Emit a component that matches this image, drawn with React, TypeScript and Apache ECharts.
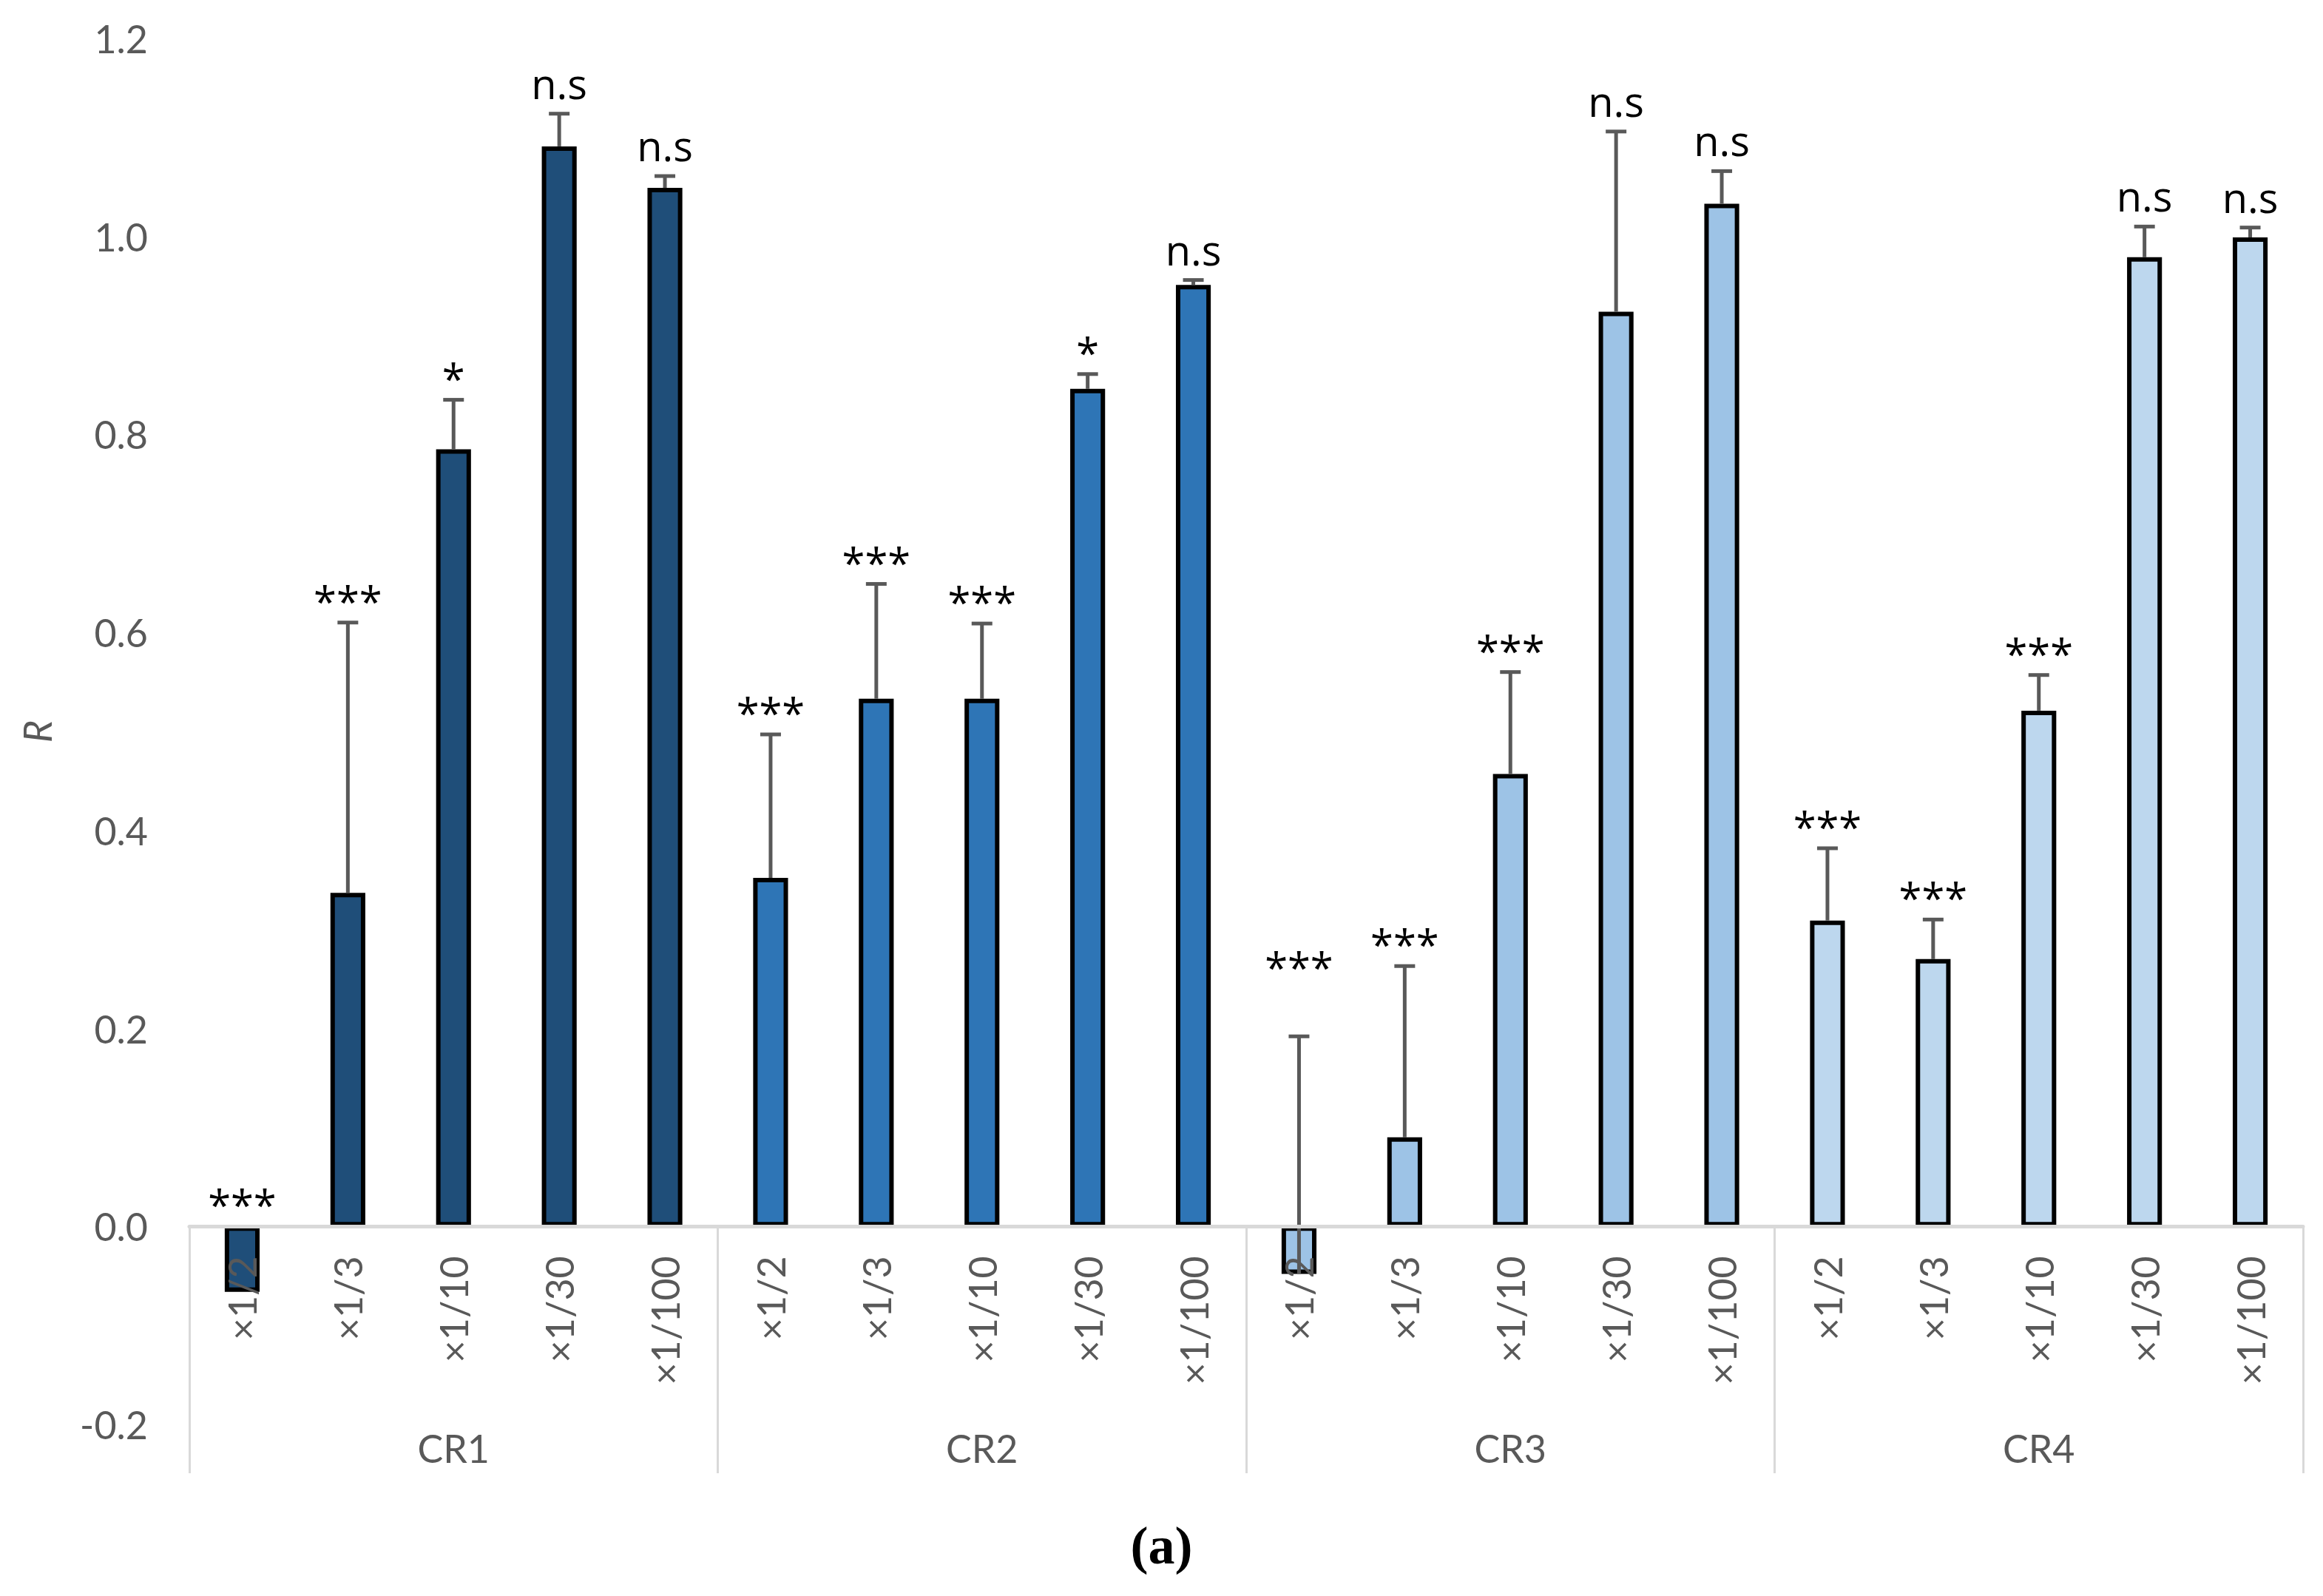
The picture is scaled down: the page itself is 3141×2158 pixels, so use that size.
import React, { useEffect, useRef } from "react";
import * as echarts from "echarts";

const groups = ["CR1", "CR2", "CR3", "CR4"];
const dilutions = ["×1/2", "×1/3", "×1/10", "×1/30", "×1/100"];
const groupColors = ["#1F4E79", "#2E75B6", "#9DC3E6", "#BDD7EE"];

const cr1Values = [-0.066, 0.337, 0.785, 1.091, 1.049];
const cr1Errors = [0, 0.273, 0.05, 0.033, 0.012];
const cr1Signif = ["***", "***", "*", "n.s", "n.s"];

const cr2Values = [0.352, 0.533, 0.533, 0.846, 0.951];
const cr2Errors = [0.145, 0.116, 0.076, 0.015, 0.005];
const cr2Signif = ["***", "***", "***", "*", "n.s"];

const cr3Values = [-0.048, 0.09, 0.457, 0.924, 1.033];
const cr3Errors = [0.24, 0.173, 0.103, 0.182, 0.033];
const cr3Signif = ["***", "***", "***", "n.s", "n.s"];

const cr4Values = [0.309, 0.27, 0.521, 0.979, 0.999];
const cr4Errors = [0.073, 0.04, 0.036, 0.031, 0.01];
const cr4Signif = ["***", "***", "***", "n.s", "n.s"];

const yTicks = { min: -0.2, max: 1.2, interval: 0.2 };

const FONT = "Lato, 'Open Sans', sans-serif";
const ANNOT_FONT = "'Open Sans', Lato, sans-serif";

const W = 3141;
const H = 2158;
const GRID = { left: 256, right: 27, top: 52, bottom: 232 };

export default function App() {
  const ref = useRef<HTMLDivElement>(null);

  useEffect(() => {
    document.body.style.margin = "0";
    if (!ref.current) return;
    const chart = echarts.init(ref.current, undefined, { renderer: "svg" });

    const allValues = [cr1Values, cr2Values, cr3Values, cr4Values];
    const allErrors = [cr1Errors, cr2Errors, cr3Errors, cr4Errors];
    const allSignif = [cr1Signif, cr2Signif, cr3Signif, cr4Signif];

    const categories: string[] = [];
    const barData: any[] = [];
    const errData: any[] = [];
    const signif: string[] = [];
    groups.forEach((g, gi) => {
      dilutions.forEach((d, di) => {
        const idx = categories.length;
        categories.push(d);
        barData.push({
          value: allValues[gi][di],
          itemStyle: { color: groupColors[gi] },
        });
        errData.push([idx, allValues[gi][di], allErrors[gi][di]]);
        signif.push(allSignif[gi][di]);
      });
    });

    // distance from grid bottom (y = min) up to y = 0
    const gridH = H - GRID.top - GRID.bottom;
    const zeroOffset =
      ((0 - yTicks.min) / (yTicks.max - yTicks.min)) * gridH;

    chart.setOption({
      animation: false,
      backgroundColor: "#ffffff",
      grid: { ...GRID, containLabel: false },
      xAxis: [
        {
          type: "category",
          data: categories,
          position: "bottom",
          offset: -zeroOffset,
          z: 10,
          axisLine: {
            show: true,
            onZero: false,
            lineStyle: { color: "#D9D9D9", width: 5 },
          },
          axisTick: { show: false },
          axisLabel: {
            rotate: 90,
            margin: 40,
            color: "#595959",
            fontSize: 52,
            fontFamily: FONT,
            interval: 0,
          },
          splitLine: { show: false },
        },
        {
          type: "category",
          data: groups,
          position: "bottom",
          offset: 66,
          axisLine: { show: false, onZero: false },
          axisTick: {
            show: true,
            inside: true,
            length: zeroOffset + 66,
            lineStyle: { color: "#D9D9D9", width: 3 },
          },
          axisLabel: {
            inside: true,
            margin: 8,
            color: "#595959",
            fontSize: 52,
            fontFamily: FONT,
          },
          splitLine: { show: false },
        },
      ],
      yAxis: {
        type: "value",
        min: yTicks.min,
        max: yTicks.max,
        interval: yTicks.interval,
        name: "R",
        nameLocation: "middle",
        nameRotate: 90,
        nameGap: 180,
        nameTextStyle: {
          color: "#595959",
          fontSize: 52,
          fontStyle: "italic",
          fontFamily: FONT,
        },
        axisLine: { show: false },
        axisTick: { show: false },
        splitLine: { show: false },
        axisLabel: {
          margin: 56,
          color: "#595959",
          fontSize: 52,
          fontFamily: FONT,
          formatter: (v: number) => v.toFixed(1),
        },
      },
      series: [
        {
          type: "bar",
          xAxisIndex: 0,
          data: barData,
          barWidth: "33%",
          itemStyle: { borderColor: "#000000", borderWidth: 6 },
          z: 2,
        },
        {
          type: "custom",
          xAxisIndex: 0,
          data: errData,
          z: 5,
          renderItem: (params: any, api: any) => {
            const i = api.value(0);
            const v = api.value(1);
            const e = api.value(2);
            const base = api.coord([i, v]);
            const top = api.coord([i, v + e]);
            const lab = api.coord([i, Math.max(v, 0) + e]);
            const children: any[] = [];
            if (e > 0) {
              children.push({
                type: "line",
                shape: { x1: base[0], y1: base[1], x2: top[0], y2: top[1] },
                style: { stroke: "#595959", lineWidth: 5 },
              });
              children.push({
                type: "line",
                shape: { x1: top[0] - 14, y1: top[1], x2: top[0] + 14, y2: top[1] },
                style: { stroke: "#595959", lineWidth: 5 },
              });
            }
            const txt = signif[params.dataIndex];
            const isStar = txt.indexOf("*") >= 0;
            children.push({
              type: "text",
              style: {
                text: txt,
                x: lab[0],
                y: lab[1] - (isStar ? 2 : 14),
                textAlign: "center",
                textVerticalAlign: "bottom",
                fill: "#000000",
                font: `56px ${ANNOT_FONT}`,
              },
            });
            return { type: "group", children };
          },
        },
      ],
      graphic: [
        {
          type: "text",
          left: "center",
          top: 2054,
          style: {
            text: "(a)",
            font: "bold 72px 'Liberation Serif', serif",
            fill: "#000000",
          },
        },
      ],
    });

    return () => chart.dispose();
  }, []);

  return <div ref={ref} style={{ width: W, height: H }} />;
}
